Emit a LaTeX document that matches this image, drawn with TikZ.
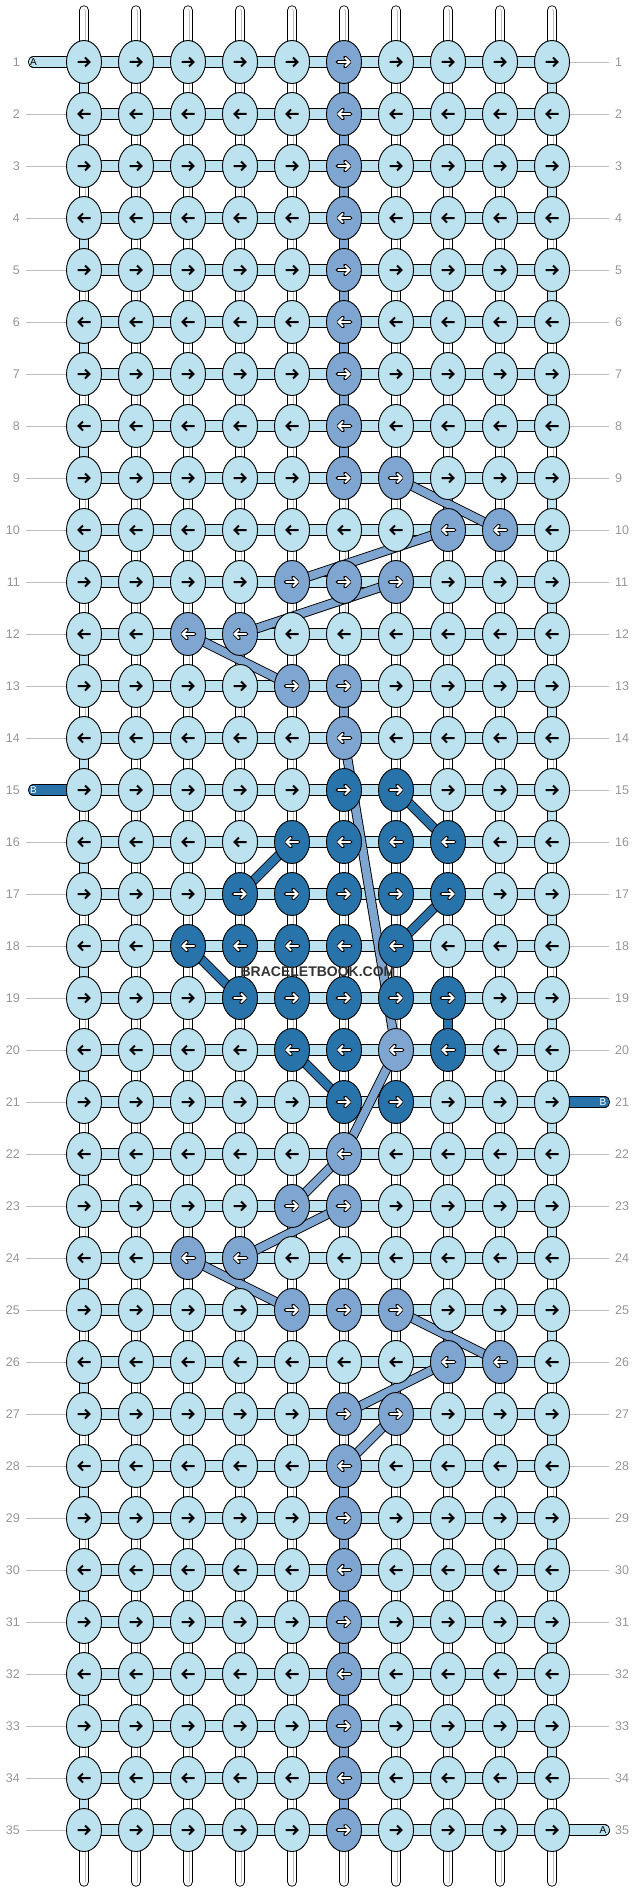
\documentclass[tikz,border=0pt]{standalone}
\usepackage{fontspec}
\setmainfont{Liberation Sans}
\usetikzlibrary{shapes.geometric}
\definecolor{threadA}{RGB}{187,226,238}
\definecolor{threadC}{RGB}{127,166,208}
\definecolor{threadB}{RGB}{40,116,170}
\definecolor{labelgray}{RGB}{150,150,150}
\definecolor{linegray}{RGB}{190,190,190}
\pgfdeclarelayer{links}
\pgfdeclarelayer{bands}
\pgfsetlayers{links,bands,main}
\tikzset{
  knot/.style      = {draw, ellipse, line width=0.9pt, minimum width=35pt,
                      minimum height=43pt, inner sep=0pt},
  hlink/.style     = {draw, line width=0.9pt, double=threadA, double distance=9.5pt},
  vlink/.style     = {draw, line width=0.9pt, double=white, double distance=8.6pt,
                      postaction={draw=linegray, line width=0.5pt, double=white,
                      double distance=2pt}},
  tlink/.style     = {draw, line width=0.9pt, double distance=8.6pt},
  band/.style      = {draw, line width=0.9pt, double distance=8pt},
  stub/.style      = {hlink, line cap=round},
  warp end/.style  = {vlink, line cap=round},
  blackarrow/.style = {line width=2pt, line join=miter},
  whitearrow/.style = {line width=3.6pt, line cap=round, line join=round,
                      postaction={draw=white, line width=1.8pt, line cap=butt,
                      line join=miter}},
  rowlabel/.style  = {text=labelgray, font=\fontsize{12.5}{14}\selectfont,
                      inner xsep=6pt, inner ysep=0pt},
  rowline/.style   = {draw=linegray, line width=0.8pt},
  stubtext/.style  = {font=\fontsize{10}{10}\selectfont, inner sep=0pt},
  watermark/.style = {font=\bfseries\fontsize{14}{14}\selectfont, text=black!80}
}

\begin{document}
\begin{tikzpicture}[x=1pt, y=-1pt]
  \useasboundingbox (0,0) rectangle (636,1892);

  % knots that show thread C or thread B instead of A
  \foreach \r/\c in {1/6,2/6,3/6,4/6,5/6,6/6,7/6,8/6,9/6,9/7,10/8,10/9,
      11/5,11/6,11/7,12/3,12/4,13/5,13/6,14/6,20/7,22/6,23/5,23/6,24/3,24/4,
      25/5,25/6,25/7,26/8,26/9,27/6,27/7,28/6,29/6,30/6,31/6,32/6,33/6,34/6,35/6}
    {\expandafter\xdef\csname kc-\r-\c\endcsname{threadC}}
  \foreach \r/\c in {15/6,15/7,16/5,16/6,16/7,16/8,17/4,17/5,17/6,17/7,17/8,
      18/3,18/4,18/5,18/6,18/7,19/4,19/5,19/6,19/7,19/8,20/5,20/6,20/8,21/6,21/7}
    {\expandafter\xdef\csname kc-\r-\c\endcsname{threadB}}

  % coloured links between rows (A turning at the edges, C and B going down)
  \foreach \r in {1,3,...,33} {\expandafter\xdef\csname vl-\r-10\endcsname{threadA}}
  \foreach \r in {1,2,4,...,34} {\expandafter\xdef\csname vl-\r-1\endcsname{threadA}}
  \foreach \r in {1,2,3,4,5,6,7,8,13,28,29,30,31,32,33,34}
    {\expandafter\xdef\csname vl-\r-6\endcsname{threadC}}
  \expandafter\xdef\csname vl-19-8\endcsname{threadB}

  % the knots
  \foreach \r in {1,...,35}
    \foreach \c in {1,...,10} {
      \ifcsname kc-\r-\c\endcsname \edef\kf{\csname kc-\r-\c\endcsname}\else\def\kf{threadA}\fi
      \node[knot, fill=\kf] (k-\r-\c) at ({32+52*\c},{10+52*\r}) {};
    }

  % arrows, -> on odd rows and <- on even rows
  \foreach \r in {1,...,35} {
    \pgfmathtruncatemacro\dir{1-2*mod(\r+1,2)}
    \foreach \c in {1,...,10} {
      \begin{scope}[shift={(k-\r-\c.center)}, xscale=\dir]
        \ifcsname kc-\r-\c\endcsname
          \draw[whitearrow] (-6.5,0) -- (5.5,0) (1,-4.5) -- (5.5,0) -- (1,4.5);
        \else
          \draw[blackarrow] (-6.5,0) -- (5.5,0) (1,-4.5) -- (5.5,0) -- (1,4.5);
        \fi
      \end{scope}
    }
  }

  \begin{pgfonlayer}{links}
    % thread A along every row
    \foreach \r in {1,...,35} {
      \foreach \c in {1,...,9} {
        \pgfmathtruncatemacro\nc{\c+1}
        \draw[hlink] (k-\r-\c.center) -- (k-\r-\nc.center);
      }
    }
    % links from row to row
    \foreach \r in {1,...,34} {
      \pgfmathtruncatemacro\nr{\r+1}
      \foreach \c in {1,...,10} {
        \ifcsname vl-\r-\c\endcsname
          \edef\lc{\csname vl-\r-\c\endcsname}
          \draw[tlink, double=\lc] (k-\r-\c.center) -- (k-\nr-\c.center);
        \else
          \draw[vlink] (k-\r-\c.center) -- (k-\nr-\c.center);
        \fi
      }
    }
    % loose warp ends
    \foreach \c in {1,...,10} {
      \coordinate (top-\c) at ({32+52*\c},10.5);
      \coordinate (bot-\c) at ({32+52*\c},1881.5);
      \draw[warp end] (top-\c) -- (k-1-\c.center);
      \draw[warp end] (k-35-\c.center) -- (bot-\c);
    }
    % ends of thread A and thread B
    \coordinate (a-in) at (33.5,62);
    \coordinate (a-out) at (604.5,1830);
    \coordinate (b-in) at (33.5,790);
    \coordinate (b-out) at (604.5,1102);
    \draw[stub] (a-in) -- (k-1-1.center);
    \draw[stub] (k-35-10.center) -- (a-out);
    \draw[stub, double=threadB] (b-in) -- (k-15-1.center);
    \draw[stub, double=threadB] (k-21-10.center) -- (b-out);
  \end{pgfonlayer}

  % thread C and thread B crossing over
  \begin{pgfonlayer}{bands}
    \foreach \a/\b in {9-7/10-9, 10-8/11-5, 11-7/12-4, 12-3/13-5, 14-6/20-7,
        20-7/22-6, 22-6/23-5, 23-6/24-4, 24-3/25-5, 25-7/26-9, 26-8/27-6, 27-7/28-6}
      \draw[band, double=threadC] (k-\a.center) -- (k-\b.center);
    \foreach \a/\b in {15-7/16-8, 16-5/17-4, 17-8/18-7, 18-3/19-4, 20-5/21-6}
      \draw[band, double=threadB] (k-\a.center) -- (k-\b.center);
  \end{pgfonlayer}

  \node[stubtext] (a-in-t) at (a-in) {A};
  \node[stubtext] (a-out-t) at ([xshift=-1.5pt]a-out) {A};
  \node[stubtext, text=white] (b-in-t) at (b-in) {B};
  \node[stubtext, text=white] (b-out-t) at ([xshift=-1.5pt]b-out) {B};

  % row numbers
  \foreach \r in {1,...,35} {
    \node[rowlabel, anchor=east] (ll-\r) at (26,{10+52*\r}) {\r};
    \node[rowlabel, anchor=west] (rl-\r) at (609,{10+52*\r}) {\r};
    \ifnum\r=1 \else\ifnum\r=15 \else \draw[rowline] (ll-\r) -- (k-\r-1); \fi\fi
    \ifnum\r=21 \else\ifnum\r=35 \else \draw[rowline] (k-\r-10) -- (rl-\r); \fi\fi
  }

  \node[watermark] (wm) at (318,972) {BRACELETBOOK.COM};
\end{tikzpicture}
\end{document}
